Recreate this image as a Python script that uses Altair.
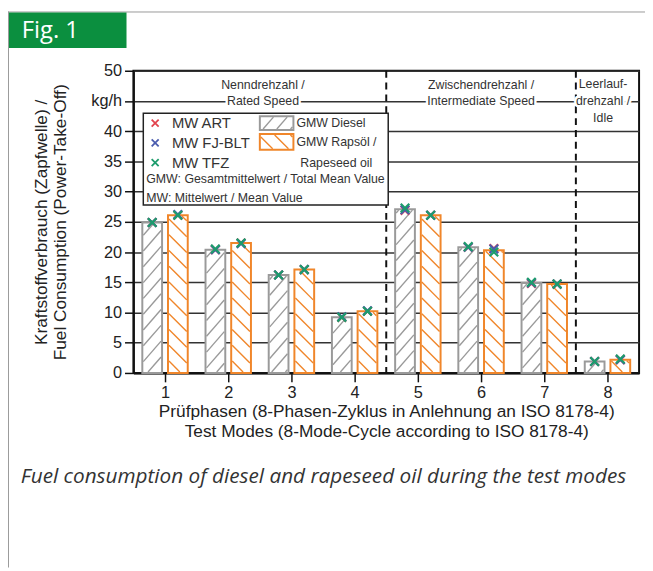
import math
import altair as alt
import pandas as pd

# ---------------- data ----------------
modes = [1, 2, 3, 4, 5, 6, 7, 8]
gmw_diesel = [24.9, 20.4, 16.2, 9.2, 27.1, 20.8, 14.9, 1.9]
gmw_rapeseed = [26.1, 21.5, 17.1, 10.2, 26.1, 20.3, 14.7, 2.2]

art_diesel = [24.9, 20.4, 16.2, 9.2, 26.9, 20.8, 14.8, 1.9]
art_rapeseed = [26.1, 21.5, 17.1, 10.2, 26.1, 20.6, 14.7, 2.2]
fjblt_diesel = [24.9, 20.4, 16.2, 9.3, 27.0, 20.8, 14.9, 1.9]
fjblt_rapeseed = [26.2, 21.4, 17.1, 10.3, 26.1, 20.5, 14.7, 2.2]
tfz_diesel = [24.9, 20.5, 16.2, 9.2, 27.3, 20.9, 15.0, 1.9]
tfz_rapeseed = [26.1, 21.5, 17.1, 10.2, 26.1, 20.0, 14.7, 2.3]

group_separators = [4.5, 7.5]
group_labels = [
    ["Nenndrehzahl /", "Rated Speed"],
    ["Zwischendrehzahl /", "Intermediate Speed"],
    ["Leerlauf-", "drehzahl /", "Idle"],
]
group_label_x = [2.55, 6.0, 7.93]
group_label_rows = [[47.6, 44.95], [47.6, 44.95], [47.8, 44.95, 42.1]]

y_ticks = [0, 5, 10, 15, 20, 25, 30, 35, 40, 45, 50]
x_title = ["Prüfphasen (8-Phasen-Zyklus in Anlehnung an ISO 8178-4)",
           "Test Modes (8-Mode-Cycle according to ISO 8178-4)"]
y_title = ["Kraftstoffverbrauch (Zapfwelle) /", "Fuel Consumption (Power-Take-Off)"]
caption = "Fuel consumption of diesel and rapeseed oil during the test modes"

# ---------------- layout / styles ----------------
W, H = 512, 306
XD = [0.5, 8.5]
YD = [0, 50]
PX_X = W / (XD[1] - XD[0])
PX_Y = H / (YD[1] - YD[0])
FONT = "Liberation Sans"
GRAY = "#9a9a9a"
ORANGE = "#f0862a"
INK = "#222222"
RED, BLUE, GREEN = "#e2434d", "#4a5cae", "#1d9c6c"
XSHAPE = "M-1,-1L1,1M-1,1L1,-1"

xs = alt.Scale(domain=XD, nice=False, zero=False)
ys = alt.Scale(domain=YD, nice=False, zero=False)

AX = alt.Axis(values=modes, format="d", title=x_title, grid=False, labelOverlap=False,
              titleFontSize=17.5, titleLineHeight=20,
              titleX=W / 2, titleY=39, titleBaseline="middle", titleAlign="center")
AY = alt.Axis(values=y_ticks, grid=True, title=y_title, labelOverlap=False,
              labelExpr="datum.value == 45 ? 'kg/h' : datum.label",
              titleFontSize=17.5, titleLineHeight=19,
              titleAngle=-90, titleX=-93, titleY=H / 2, titleBaseline="middle", titleAlign="center")

BAR_GAP, BAR_OUT = 3, 23  # px from mode center


def hatch_segments(x0, x1, y0, y1, slope, step):
    corners = [(x0, y0), (x1, y0), (x0, y1), (x1, y1)]
    cs = [y - slope * x for x, y in corners]
    k0 = math.ceil(min(cs) / step)
    k1 = math.floor(max(cs) / step)
    segs = []
    for k in range(k0, k1 + 1):
        c = k * step
        pts = []
        for x in (x0, x1):
            y = slope * x + c
            if y0 - 1e-9 <= y <= y1 + 1e-9:
                pts.append((x, y))
        for y in (y0, y1):
            x = (y - c) / slope
            if x0 - 1e-9 <= x <= x1 + 1e-9:
                pts.append((x, y))
        pts = sorted(set((round(a, 5), round(b, 5)) for a, b in pts))
        if len(pts) >= 2:
            p, q = pts[0], pts[-1]
            if abs(p[0] - q[0]) + abs(p[1] - q[1]) > 1.5:
                segs.append((p, q))
    return segs


HATCH = {"Diesel": (1.15, 16), "Rapeseed": (-1.0, 16)}

bar_rows, hatch_rows, mark_rows = [], [], []
for i, m in enumerate(modes):
    cx = (m - XD[0]) * PX_X
    for fuel, vals, sign in (("Diesel", gmw_diesel, -1), ("Rapeseed", gmw_rapeseed, 1)):
        a, b = sorted([cx + sign * BAR_GAP, cx + sign * BAR_OUT])
        v = vals[i]
        bar_rows.append(dict(fuel=fuel, x=XD[0] + a / PX_X, x2=XD[0] + b / PX_X, y=0, y2=v))
        slope, step = HATCH[fuel]
        for p, q in hatch_segments(a + 1, b - 1, 1, v * PX_Y - 1, slope, step):
            hatch_rows.append(dict(fuel=fuel, x=XD[0] + p[0] / PX_X, y=p[1] / PX_Y,
                                   x2=XD[0] + q[0] / PX_X, y2=q[1] / PX_Y))
    for z, (inst, dv, rv) in enumerate((("ART", art_diesel, art_rapeseed),
                                        ("FJ-BLT", fjblt_diesel, fjblt_rapeseed),
                                        ("TFZ", tfz_diesel, tfz_rapeseed))):
        mark_rows.append(dict(inst=inst, z=z, x=m - (BAR_GAP + BAR_OUT) / 2 / PX_X, y=dv[i]))
        mark_rows.append(dict(inst=inst, z=z, x=m + (BAR_GAP + BAR_OUT) / 2 / PX_X, y=rv[i]))

bars_df = pd.DataFrame(bar_rows)
hatch_df = pd.DataFrame(hatch_rows)
marks_df = pd.DataFrame(mark_rows).sort_values("z")
sep_df = pd.DataFrame({"x": group_separators})
ann_rows = []
for lines, gx, rows in zip(group_labels, group_label_x, group_label_rows):
    for t, gy in zip(lines, rows):
        ann_rows.append(dict(t=t, x=gx, y=gy))
ann_df = pd.DataFrame(ann_rows)

fuel_stroke = alt.Scale(domain=["Diesel", "Rapeseed"], range=[GRAY, ORANGE])
inst_color = alt.Scale(domain=["ART", "FJ-BLT", "TFZ"], range=[RED, BLUE, GREEN])


def X(f="x:Q"):
    return alt.X(f, scale=xs, axis=AX)


def Y(f="y:Q"):
    return alt.Y(f, scale=ys, axis=AY)


# ---------------- layers ----------------
bars = alt.Chart(bars_df).mark_rect(fill="white", strokeWidth=2).encode(
    x=X(), x2="x2:Q", y=Y(), y2="y2:Q",
    stroke=alt.Stroke("fuel:N", scale=fuel_stroke, legend=None),
)

hatch = alt.Chart(hatch_df).mark_rule(strokeWidth=1.4).encode(
    x=X(), x2="x2:Q", y=Y(), y2="y2:Q",
    stroke=alt.Stroke("fuel:N", scale=fuel_stroke, legend=None),
)

markers = alt.Chart(marks_df).mark_point(shape=XSHAPE, filled=False, strokeWidth=2.2, size=75, opacity=1).encode(
    x=X(), y=Y(),
    color=alt.Color("inst:N", scale=inst_color, legend=None),
    order=alt.Order("z:Q"),
)

seps = alt.Chart(sep_df).mark_rule(strokeDash=[7, 5], strokeWidth=2, color="#111").encode(
    x=X(), y=alt.value(0), y2=alt.value(H))

ann_halo = alt.Chart(ann_df).mark_text(font=FONT, fontSize=12.5, color="white", stroke="white",
                                       strokeWidth=5, baseline="middle").encode(
    x=X(), y=Y(), text="t:N")
ann_text = alt.Chart(ann_df).mark_text(font=FONT, fontSize=12.5, color="#333", baseline="middle").encode(
    x=X(), y=Y(), text="t:N")

one = alt.Data(values=[{}])


def vrect(x, x2, y, y2, **kw):
    return alt.Chart(one).mark_rect(**kw).encode(
        x=alt.value(x), x2=alt.value(x2), y=alt.value(y), y2=alt.value(y2))


def vrule(x, x2, y, y2, **kw):
    return alt.Chart(one).mark_rule(**kw).encode(
        x=alt.value(x), x2=alt.value(x2), y=alt.value(y), y2=alt.value(y2))


def vtext(x, y, t, **kw):
    base = dict(font=FONT, fontSize=12.5, color="#333", align="left", baseline="middle")
    base.update(kw)
    return alt.Chart(one).mark_text(**base).encode(x=alt.value(x), y=alt.value(y), text=alt.value(t))


legend_layers = [vrect(10, 258, 43, 136, fill="white", stroke=INK, strokeWidth=1.5)]
for (lbl, col), ly in zip((("MW ART", RED), ("MW FJ-BLT", BLUE), ("MW TFZ", GREEN)), (53, 73, 93)):
    legend_layers.append(alt.Chart(one).mark_point(shape=XSHAPE, filled=False, strokeWidth=1.8, size=50,
                                                   color=col, opacity=1).encode(x=alt.value(22), y=alt.value(ly)))
    legend_layers.append(vtext(39, ly, lbl, fontSize=15))
for (sx0, sx1, sy0, sy1), fuel, col in (((128, 162, 46, 60), "Diesel", GRAY), ((128, 162, 64, 80), "Rapeseed", ORANGE)):
    legend_layers.append(vrect(sx0, sx1, sy0, sy1, fill="white", stroke=col, strokeWidth=2))
    slope, step = HATCH[fuel]
    for p, q in hatch_segments(sx0 + 1, sx1 - 1, H - sy1 + 1, H - sy0 - 1, slope, step):
        legend_layers.append(vrule(p[0], q[0], H - p[1], H - q[1], stroke=col, strokeWidth=1.4))
legend_layers.append(vtext(165, 53, "GMW Diesel"))
legend_layers.append(vtext(165, 72, "GMW Rapsöl /"))
legend_layers.append(vtext(169, 93, "Rapeseed oil"))
legend_layers.append(vtext(13, 110, "GMW: Gesamtmittelwert / Total Mean Value"))
legend_layers.append(vtext(13, 129, "MW: Mittelwert / Mean Value"))

decor = [
    vrule(-127, W + 6, -59.5, -59.5, stroke="#999", strokeWidth=1),
    vrule(-126.5, -126.5, -60, 503, stroke="#999", strokeWidth=1),
    vrect(-126, -7, -59, -23, fill="#0b8f3f"),
    vtext(-113, -40, "Fig. 1", font="Open Sans", fontSize=24, color="white"),
    vtext(-114, 411, caption, font="Open Sans", fontSize=21, fontStyle="italic", color="#333"),
]

chart = alt.layer(
    bars, seps, *legend_layers[:1], ann_halo, ann_text, hatch, markers, *legend_layers[1:], *decor
).properties(
    width=W, height=H,
    padding={"left": 127, "top": 60, "right": 6, "bottom": 197},
    autosize=alt.AutoSizeParams(type="none"),
).configure_view(stroke="#111", strokeWidth=2).configure_axis(
    labelFont=FONT, labelFontSize=16.5, labelColor=INK, labelPadding=3,
    titleFont=FONT, titleFontWeight="normal", titleColor=INK,
    domainColor="#111", domainWidth=2, tickColor="#111", tickWidth=1.5, tickSize=9,
    gridColor="#333", gridWidth=1.5,
)

chart.save("out.html", embed_options={"renderer": "svg", "actions": False})
